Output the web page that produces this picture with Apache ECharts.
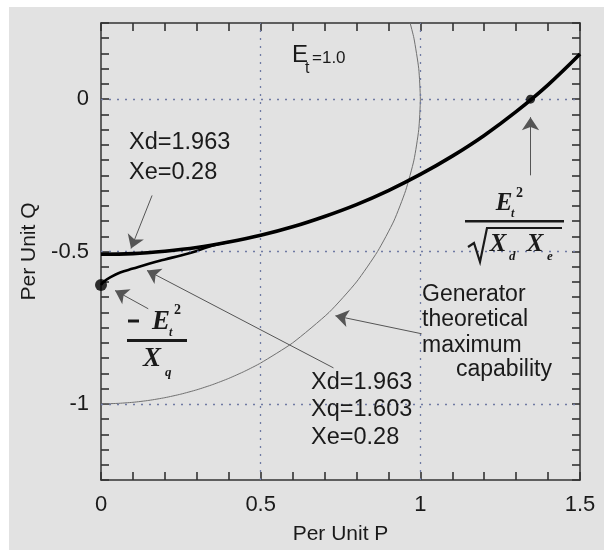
<!DOCTYPE html>
<html>
<head>
<meta charset="utf-8">
<script src="https://cdn.jsdelivr.net/npm/echarts@6/dist/echarts.min.js"></script>
<style>html,body{margin:0;padding:0;background:#fff}#c{width:604px;height:550px}</style>
</head>
<body>
<div id="c"></div>
<script>
// ---- data ----
// Upper thick curve (Xd=1.963, Xe=0.28)
const upperP = [0, 0.1, 0.2, 0.3, 0.4, 0.5, 0.6, 0.7, 0.8, 0.9, 1.0, 1.1, 1.2, 1.3, 1.4, 1.5];
const upperQ = [-0.509, -0.507, -0.499, -0.487, -0.469, -0.447, -0.419, -0.385, -0.346, -0.300, -0.247, -0.187, -0.119, -0.041, 0.047, 0.148];
// Lower curve (Xd=1.963, Xq=1.603, Xe=0.28)
const lowerP = [0, 0.01, 0.03, 0.06, 0.1, 0.15, 0.2, 0.25, 0.3, 0.35, 0.4];
const lowerQ = [-0.610, -0.598, -0.584, -0.569, -0.556, -0.540, -0.526, -0.513, -0.498, -0.480, -0.469];
// Generator theoretical maximum capability
const capP = [0, 0.05, 0.1, 0.15, 0.2, 0.25, 0.3, 0.35, 0.4, 0.45, 0.5, 0.6, 0.714, 0.8, 0.866, 0.917, 0.954, 0.980, 0.995, 1.0, 0.995, 0.980, 0.968];
const capQ = [-1, -0.9987, -0.995, -0.9887, -0.9798, -0.9682, -0.9539, -0.9367, -0.9165, -0.893, -0.866, -0.8, -0.7, -0.6, -0.5, -0.4, -0.3, -0.2, -0.1, 0, 0.1, 0.2, 0.25];
// marked points
const dotMinP = [0], dotMinQ = [-0.61];
const dotStabP = [1.345], dotStabQ = [0];
// grid lines
const gridP = [0.5, 1];
const gridQ = [0, -0.5, -1];
// annotation pointers
const arrowFromP = [0.16, 0.148, 0.728, 1.004, 1.345];
const arrowFromQ = [-0.316, -0.688, -0.882, -0.77, -0.25];
const arrowToP = [0.094, 0.044, 0.144, 0.734, 1.345];
const arrowToQ = [-0.49, -0.628, -0.562, -0.711, -0.059];
// axis
const xMin = 0, xMax = 1.5, xStep = 0.5, xMinorSplit = 5;
const yMin = -1.25, yMax = 0.25, yStep = 0.25, yMinorSplit = 5;
const xName = 'Per Unit P', yName = 'Per Unit Q';

const zip = (a, b) => a.map((v, i) => [v, b[i]]);
const isHalf = v => Math.abs(v * 2 - Math.round(v * 2)) < 1e-6;
const fmt = v => isHalf(v) ? String(+v.toFixed(2)) : '';

const SANS = '"Liberation Sans", Arial, Helvetica, sans-serif';
const SERIF = '"Liberation Serif", "Times New Roman", serif';
const INK = '#1a1a1a';
const AX = '#333';
const TICK = 8;

function T(x, y, text, size, o) {
  o = o || {};
  return {
    type: 'text', x: x, y: y, silent: true, z: 50,
    style: Object.assign({
      text: text, fill: INK, fontFamily: SANS, fontSize: size,
      align: 'left', verticalAlign: 'middle'
    }, o)
  };
}
function F(x, y, text, size, o) {
  return T(x, y, text, size, Object.assign({fontFamily: SERIF, fontWeight: 'bold', fontStyle: 'italic'}, o || {}));
}
function R(x, y, w, h) {
  return {type: 'rect', silent: true, z: 50, shape: {x: x, y: y, width: w, height: h}, style: {fill: INK}};
}
function axis(extra) {
  return Object.assign({
    type: 'value',
    axisLine: {show: true, onZero: false, lineStyle: {color: AX, width: 1.5}},
    axisTick: {show: true, inside: true, length: TICK, lineStyle: {color: AX, width: 1.6}},
    splitLine: {show: false},
    minorSplitLine: {show: false}
  }, extra);
}

const graphics = [
  {type: 'rect', silent: true, z: 100, shape: {x: 0, y: 0, width: 9, height: 550}, style: {fill: '#fff'}},
  {type: 'rect', silent: true, z: 100, shape: {x: 0, y: 0, width: 604, height: 7}, style: {fill: '#fff'}},
  // E_t = 1.0
  T(292, 55, 'E', 24),
  T(305, 69, 't', 16),
  T(312, 58, '=1.0', 17),
  // labels
  T(129, 128, 'Xd=1.963\nXe=0.28', 23.5, {verticalAlign: 'top', lineHeight: 30}),
  T(311, 369, 'Xd=1.963\nXq=1.603\nXe=0.28', 23.5, {verticalAlign: 'top', lineHeight: 27.3}),
  T(422, 282, 'Generator\ntheoretical\nmaximum', 23, {verticalAlign: 'top', lineHeight: 25.3}),
  T(456, 370, 'capability', 23),
  // -Et^2 / Xq
  R(128, 319.5, 11, 3),
  F(161, 322, 'E', 27, {align: 'center'}),
  F(174, 310, '2', 14, {fontStyle: 'normal'}),
  F(169, 333, 't', 12),
  R(127, 339, 60, 3),
  F(152, 359, 'X', 27, {align: 'center'}),
  F(165, 373, 'q', 13),
  // Et^2 / sqrt(Xd Xe)
  F(504, 203.5, 'E', 25, {align: 'center'}),
  F(516, 193, '2', 14, {fontStyle: 'normal'}),
  F(511, 214, 't', 12),
  R(465, 220, 99, 2.5),
  {type: 'polyline', silent: true, z: 50, shape: {points: [[468, 247], [474, 243], [480, 262], [487, 228], [562, 228]]},
   style: {stroke: INK, lineWidth: 2.2, fill: null}},
  F(498, 245, 'X', 25, {align: 'center'}),
  F(509, 257, 'd', 13),
  F(535, 245, 'X', 25, {align: 'center'}),
  F(547, 257, 'e', 13)
];

const minorX = {show: true, splitNumber: xMinorSplit, length: TICK, lineStyle: {color: AX, width: 1.6}};
const minorY = {show: true, splitNumber: yMinorSplit, length: TICK, lineStyle: {color: AX, width: 1.6}};

const option = {
  animation: false,
  backgroundColor: '#e2e2e2',
  grid: {left: 101, right: 24, top: 23, bottom: 70, containLabel: false},
  xAxis: [
    axis({
      min: xMin, max: xMax, interval: xStep, position: 'bottom', minorTick: minorX,
      axisLabel: {formatter: fmt, fontSize: 22, color: INK, fontFamily: SANS, margin: 14},
      name: xName, nameLocation: 'middle', nameGap: 44,
      nameTextStyle: {fontSize: 21, color: INK, fontFamily: SANS}
    }),
    axis({min: xMin, max: xMax, interval: xStep, position: 'top', minorTick: minorX, axisLabel: {show: false}})
  ],
  yAxis: [
    axis({
      min: yMin, max: yMax, interval: yStep, position: 'left', minorTick: minorY,
      axisLabel: {formatter: fmt, fontSize: 22, color: INK, fontFamily: SANS, margin: 12},
      name: yName, nameLocation: 'middle', nameGap: 60,
      nameTextStyle: {fontSize: 21, color: INK, fontFamily: SANS}
    }),
    axis({min: yMin, max: yMax, interval: yStep, position: 'right', minorTick: minorY, axisLabel: {show: false}})
  ],
  series: [
    {
      type: 'line', data: [], z: 1, silent: true,
      markLine: {
        silent: true, symbol: ['none', 'none'], label: {show: false},
        lineStyle: {type: [2, 6], color: '#6f7aa3', width: 1.3},
        data: gridP.map(v => ({xAxis: v})).concat(gridQ.map(v => ({yAxis: v})))
      }
    },
    {
      type: 'line', data: zip(capP, capQ), showSymbol: false, smooth: 0.2,
      lineStyle: {color: '#707070', width: 1}, z: 3, silent: true
    },
    {
      type: 'line', data: zip(lowerP, lowerQ), showSymbol: false, smooth: 0.4,
      lineStyle: {color: '#000', width: 2.6}, z: 4, silent: true
    },
    {
      type: 'line', data: zip(upperP, upperQ), showSymbol: false, smooth: 0.4,
      lineStyle: {color: '#000', width: 3.6}, z: 5, silent: true
    },
    {
      type: 'scatter', z: 6, silent: true,
      data: [
        {value: [dotMinP[0], dotMinQ[0]], symbolSize: 12},
        {value: [dotStabP[0], dotStabQ[0]], symbolSize: 9}
      ],
      itemStyle: {color: '#000'}
    },
    {
      type: 'line', data: [], z: 7, silent: true,
      markLine: {
        silent: true, symbol: ['none', 'arrow'], symbolSize: 13, label: {show: false},
        lineStyle: {type: 'solid', color: '#555', width: 1},
        data: arrowFromP.map((p, i) => [
          {coord: [p, arrowFromQ[i]]},
          {coord: [arrowToP[i], arrowToQ[i]]}
        ])
      }
    }
  ],
  graphic: {elements: graphics}
};

const chart = echarts.init(document.getElementById('c'), null, {renderer: 'canvas'});
chart.setOption(option);
</script>
</body>
</html>
